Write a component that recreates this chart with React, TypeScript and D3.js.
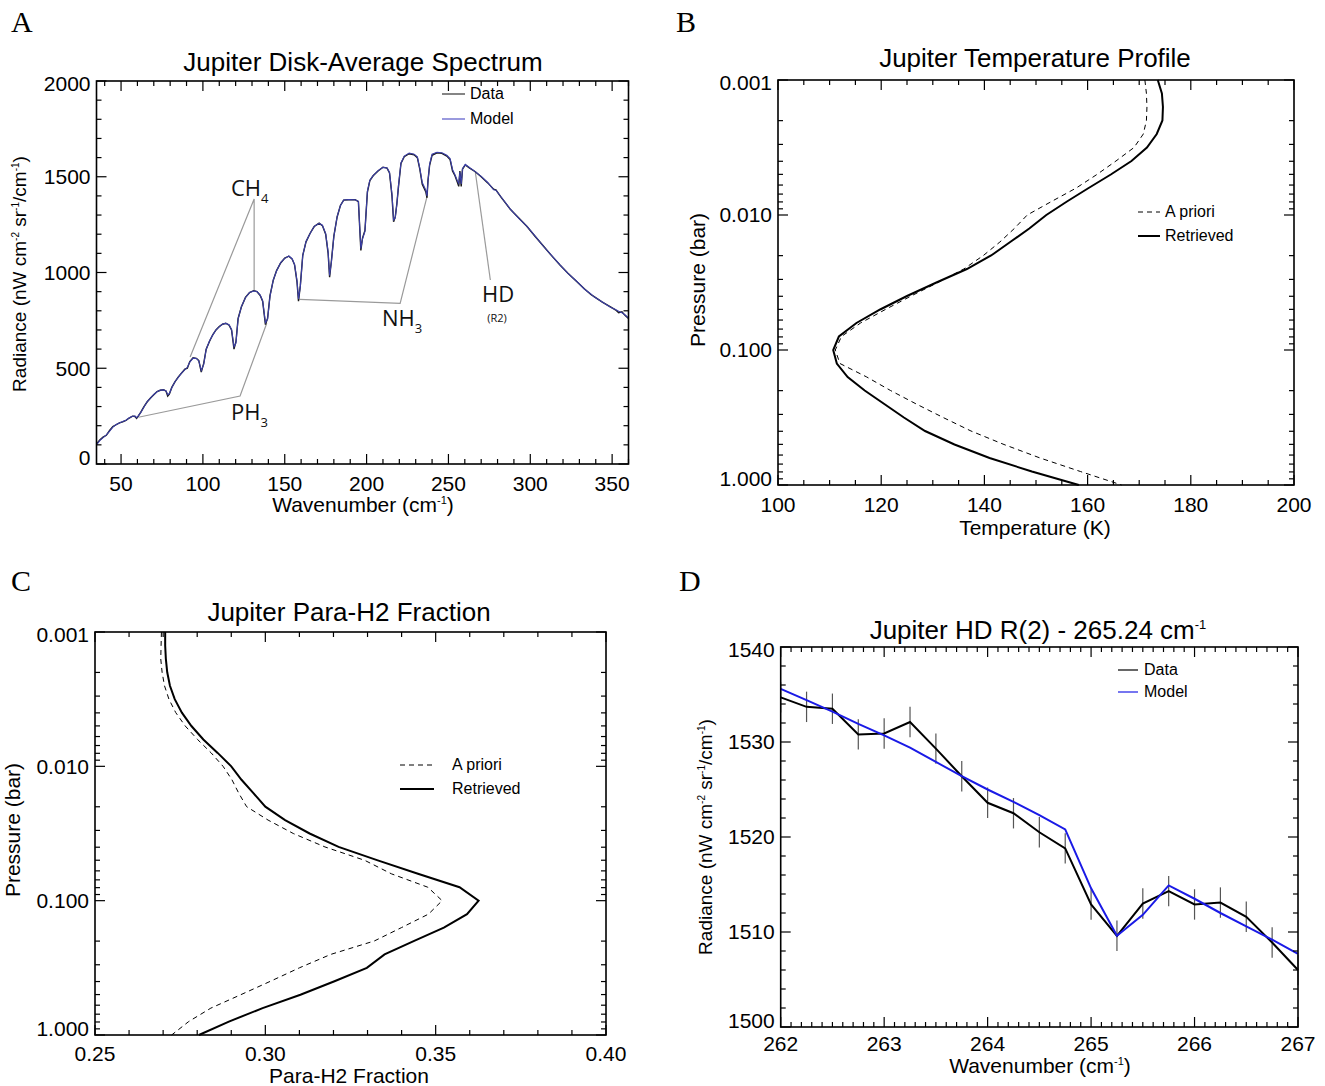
import React from "react";
import * as d3 from "d3";

const FONT = "'Liberation Sans', Arial, Helvetica, sans-serif";
const ANNOT_FONT = "'Open Sans', 'Noto Sans', sans-serif";
const SERIF = "'Liberation Serif', 'DejaVu Serif', serif";

// ---------------- Panel A: disk-average spectrum ----------------
const specWavenumber = [
  35, 37, 39, 41, 43, 45, 47, 49, 51, 53, 55, 57, 58.5, 59.5, 60.5, 62, 64, 66, 68, 70,
  72, 74, 76, 77.5, 78.5, 79.5, 81, 83, 85, 87, 89, 90.5, 92, 94, 96, 97.5, 99, 100.5, 102, 104,
  106, 108, 110, 112, 114, 116, 117.5, 119, 120.2, 121.5, 123.5, 126, 128.5, 131, 133, 135, 136.5, 138.2, 139.5, 141,
  143, 145, 147.5, 150, 152.5, 154.5, 156, 157.5, 158.4, 159.5, 161, 163, 165.5, 168, 171, 173, 175, 176.5, 177.4, 178.5,
  180, 182, 184, 186, 189, 193, 195, 196.5, 197.5, 199, 200.5, 202, 204, 207, 210, 212.5, 214, 215.5, 216.5, 217.5,
  218.5, 219.5, 221, 223, 226, 229, 231, 232.5, 234, 236.2, 236.9, 237.5, 238.5, 240, 243, 246, 249, 251, 252.5, 254,
  255.5, 256.3, 257, 257.8, 258.6, 260.3, 263, 266.4, 270, 274, 277.6, 279, 282, 287.8, 293, 298, 303, 308, 313, 318,
  323, 328, 333, 337, 339, 344, 349, 352, 354, 356, 358, 360,
];
const specData = [
  105, 125, 140, 150, 175, 195, 205, 215, 220, 228, 240, 250, 248, 238, 250, 270, 300, 325, 345, 362,
  378, 385, 388, 380, 355, 365, 400, 430, 455, 475, 495, 500, 535, 555, 552, 540, 480, 525, 600, 640,
  675, 700, 718, 730, 735, 725, 700, 600, 640, 760, 820, 870, 895, 905, 900, 880, 850, 728, 760, 880,
  960, 1010, 1050, 1075, 1085, 1070, 1040, 950, 850, 930, 1090, 1160, 1205, 1240, 1258, 1245, 1200, 1100, 975, 1060,
  1190, 1290, 1350, 1378, 1380, 1380, 1370, 1115, 1180, 1220, 1420, 1480, 1505, 1530, 1550, 1545, 1520, 1400, 1265, 1290,
  1360, 1450, 1570, 1605, 1620, 1615, 1600, 1540, 1460, 1420, 1390, 1480, 1560, 1612, 1625, 1622, 1608, 1590, 1530, 1505,
  1470, 1450, 1530, 1450, 1540, 1562, 1545, 1526, 1500, 1468, 1435, 1432, 1395, 1330, 1285, 1240, 1188, 1138, 1088, 1040,
  996, 955, 915, 885, 874, 845, 820, 805, 790, 795, 775, 760,
];
const specModel = [
  100, 122, 138, 152, 172, 193, 206, 214, 222, 229, 241, 249, 250, 242, 251, 268, 298, 326, 344, 363,
  377, 386, 387, 382, 362, 368, 398, 431, 452, 476, 493, 505, 532, 553, 551, 538, 488, 520, 598, 642,
  673, 701, 716, 731, 734, 727, 703, 612, 632, 756, 822, 868, 896, 903, 901, 882, 852, 738, 755, 876,
  962, 1008, 1052, 1074, 1086, 1072, 1042, 956, 862, 925, 1088, 1162, 1204, 1241, 1256, 1247, 1203, 1108, 985, 1055,
  1188, 1292, 1349, 1379, 1381, 1380, 1372, 1125, 1175, 1215, 1425, 1482, 1506, 1532, 1549, 1546, 1522, 1410, 1275, 1285,
  1358, 1455, 1572, 1608, 1624, 1618, 1604, 1545, 1470, 1430, 1400, 1475, 1565, 1618, 1628, 1625, 1612, 1595, 1538, 1510,
  1478, 1465, 1525, 1462, 1542, 1565, 1547, 1527, 1502, 1470, 1432, 1430, 1397, 1331, 1283, 1241, 1190, 1137, 1090, 1041,
  995, 957, 914, 888, 873, 846, 819, 807, 798, 790, 778, 762,
];
const specTicksX = [50, 100, 150, 200, 250, 300, 350];
const specTicksY = [0, 500, 1000, 1500, 2000];

// ---------------- Panel B: temperature profile ----------------
const pressureLevels = [
  0.001, 0.001259, 0.001585, 0.001995, 0.002512, 0.003162, 0.003981, 0.005012, 0.00631, 0.007943,
  0.01, 0.01259, 0.01585, 0.01995, 0.02512, 0.03162, 0.03981, 0.05012, 0.0631, 0.07943,
  0.1, 0.1259, 0.1585, 0.1995, 0.2512, 0.3162, 0.3981, 0.5012, 0.631, 0.7943, 1.0,
];
const tempApriori = [
  171.1, 171.4, 171.5, 171.4, 170.8, 169.0, 165.5, 161.8, 157.8, 153.0,
  148.3, 145.8, 143.0, 139.8, 136.0, 131.0, 125.8, 120.8, 116.0, 112.3,
  111.1, 112.0, 117.2, 121.8, 126.8, 132.0, 137.4, 143.8, 150.8, 158.6, 166.6,
];
const tempRetrieved = [
  173.6, 174.4, 174.6, 174.5, 173.4, 171.5, 168.5, 164.5, 160.2, 156.0,
  152.0, 148.7, 145.0, 141.3, 136.6, 130.7, 125.0, 119.8, 115.2, 111.8,
  110.7, 111.4, 113.5, 116.8, 120.6, 124.4, 128.5, 134.2, 141.0, 149.2, 158.3,
];
const tempTicks = [100, 120, 140, 160, 180, 200];
const pressureTicks = [0.001, 0.01, 0.1, 1.0];

// ---------------- Panel C: para-H2 fraction ----------------
const paraApriori = [
  0.2695, 0.2694, 0.2693, 0.2697, 0.2704, 0.2717, 0.2737, 0.2765, 0.2801, 0.2841,
  0.2876, 0.2902, 0.2922, 0.2945, 0.3008, 0.3082, 0.3175, 0.3292, 0.337, 0.3477,
  0.3519, 0.3479, 0.34, 0.332, 0.3192, 0.31, 0.3015, 0.2928, 0.284, 0.2775, 0.2725,
];
const paraRetrieved = [
  0.2706, 0.2706, 0.2708, 0.2712, 0.272, 0.2734, 0.2755, 0.2783, 0.2818, 0.286,
  0.29, 0.293, 0.2965, 0.3, 0.3058, 0.313, 0.3215, 0.333, 0.3448, 0.357,
  0.3626, 0.3592, 0.3524, 0.3437, 0.335, 0.3298, 0.3203, 0.3103, 0.2992, 0.2893, 0.2805,
];
const paraTicks = [0.25, 0.3, 0.35, 0.4];

// ---------------- Panel D: HD R(2) line ----------------
const hdWavenumber = [
  262, 262.25, 262.5, 262.75, 263, 263.25, 263.5, 263.75, 264, 264.25, 264.5,
  264.75, 265, 265.25, 265.5, 265.75, 266, 266.25, 266.5, 266.75, 267,
];
const hdData = [
  1534.7, 1533.7, 1533.5, 1530.8, 1530.9, 1532.1, 1529.3, 1526.4, 1523.6, 1522.5, 1520.5,
  1518.8, 1512.9, 1509.6, 1513.0, 1514.3, 1512.9, 1513.1, 1511.6, 1508.9, 1506.0,
];
const hdError = [
  1.6, 1.6, 1.6, 1.6, 1.6, 1.6, 1.6, 1.6, 1.6, 1.6, 1.6,
  1.6, 1.6, 1.6, 1.6, 1.6, 1.6, 1.6, 1.6, 1.6, 1.6,
];
const hdModel = [
  1535.6, 1534.4, 1533.2, 1531.9, 1530.7, 1529.4, 1527.9, 1526.4, 1525.0, 1523.7, 1522.3,
  1520.8, 1514.6, 1509.6, 1511.8, 1514.9, 1513.5, 1512.0, 1510.6, 1509.2, 1507.7,
];
const hdTicksX = [262, 263, 264, 265, 266, 267];
const hdTicksY = [1500, 1510, 1520, 1530, 1540];

// ---------------- helpers ----------------
function range(a: number, b: number, step: number) {
  const out: number[] = [];
  for (let v = a; v <= b + step * 1e-6; v += step) out.push(+v.toFixed(6));
  return out;
}
function logMinor(lo: number, hi: number) {
  const out: number[] = [];
  for (let d = lo; d < hi; d *= 10) for (let k = 2; k <= 9; k++) out.push(d * k);
  return out;
}

const TICK_FS = 21;
const LABEL_FS = 21;
const RAD_FS = 19;
const TITLE_FS = 26;
const LEGEND_FS = 16;
const DASH = "5,4";

type AxesProps = {
  xs: any;
  ys: any;
  xMajor: number[];
  xMinor: number[];
  yMajor: number[];
  yMinor: number[];
  xFmt: (v: number) => string;
  yFmt: (v: number) => string;
  xLabelY: number;
};

function Axes({ xs, ys, xMajor, xMinor, yMajor, yMinor, xFmt, yFmt, xLabelY }: AxesProps) {
  const [xa, xb] = xs.range();
  const x0 = Math.min(xa, xb), x1 = Math.max(xa, xb);
  const [ya, yb] = ys.range();
  const top = Math.min(ya, yb), bottom = Math.max(ya, yb);
  const MJ = 10, MN = 5;
  const els: any[] = [];
  xMajor.forEach((v, i) => {
    const x = xs(v);
    els.push(<line key={"xM" + i} x1={x} x2={x} y1={bottom} y2={bottom - MJ} />);
    els.push(<line key={"xMt" + i} x1={x} x2={x} y1={top} y2={top + MJ} />);
  });
  xMinor.forEach((v, i) => {
    const x = xs(v);
    els.push(<line key={"xm" + i} x1={x} x2={x} y1={bottom} y2={bottom - MN} />);
    els.push(<line key={"xmt" + i} x1={x} x2={x} y1={top} y2={top + MN} />);
  });
  yMajor.forEach((v, i) => {
    const y = ys(v);
    els.push(<line key={"yM" + i} x1={x0} x2={x0 + MJ} y1={y} y2={y} />);
    els.push(<line key={"yMr" + i} x1={x1} x2={x1 - MJ} y1={y} y2={y} />);
  });
  yMinor.forEach((v, i) => {
    const y = ys(v);
    els.push(<line key={"ym" + i} x1={x0} x2={x0 + MN} y1={y} y2={y} />);
    els.push(<line key={"ymr" + i} x1={x1} x2={x1 - MN} y1={y} y2={y} />);
  });
  return (
    <g>
      <g stroke="#000" strokeWidth={1.2}>{els}</g>
      <rect x={x0} y={top} width={x1 - x0} height={bottom - top} fill="none" stroke="#000" strokeWidth={1.6} />
      <g fontFamily={FONT} fontSize={TICK_FS} fill="#000">
        {xMajor.map((v, i) => (
          <text key={"xl" + i} x={xs(v)} y={xLabelY} textAnchor="middle">{xFmt(v)}</text>
        ))}
        {yMajor.map((v, i) => {
          let y = ys(v);
          if (Math.abs(y - bottom) < 1) y -= 6;
          else if (Math.abs(y - top) < 1) y += 3;
          return (
            <text key={"yl" + i} x={x0 - 6} y={y} dy="0.35em" textAnchor="end">{yFmt(v)}</text>
          );
        })}
      </g>
    </g>
  );
}

function RadianceLabel({ x, y }: { x: number; y: number }) {
  return (
    <text transform={`translate(${x},${y}) rotate(-90)`} textAnchor="middle" fontFamily={FONT} fontSize={RAD_FS}>
      Radiance (nW cm<tspan dy={-7} fontSize={10}>-2</tspan>
      <tspan dy={7}> sr</tspan>
      <tspan dy={-7} fontSize={10}>-1</tspan>
      <tspan dy={7}>/cm</tspan>
      <tspan dy={-7} fontSize={10}>-1</tspan>
      <tspan dy={7}>)</tspan>
    </text>
  );
}

function WavenumberLabel({ x, y }: { x: number; y: number }) {
  return (
    <text x={x} y={y} textAnchor="middle" fontFamily={FONT} fontSize={LABEL_FS}>
      Wavenumber (cm<tspan dy={-8} fontSize={11}>-1</tspan>
      <tspan dy={8}>)</tspan>
    </text>
  );
}

export default function App() {
  // ---- Panel A ----
  const xA = d3.scaleLinear().domain([35, 360]).range([96.5, 628.5]);
  const yA = d3.scaleLinear().domain([0, 2000]).range([464, 81]);
  const specLine = (vals: number[]) =>
    d3.line<number>().x((_, i) => xA(specWavenumber[i])).y((d) => yA(d))(vals) || "";
  const gl = (pts: [number, number][]) =>
    d3.line<[number, number]>().x((d) => xA(d[0])).y((d) => yA(d[1]))(pts) || "";

  // ---- Panel B ----
  const xB = d3.scaleLinear().domain([100, 200]).range([778, 1294]);
  const yB = d3.scaleLog().domain([0.001, 1]).range([80, 485]);
  const tLine = (vals: number[]) =>
    d3.line<number>().x((d) => xB(d)).y((_, i) => yB(pressureLevels[i]))(vals) || "";

  // ---- Panel C ----
  const xC = d3.scaleLinear().domain([0.25, 0.4]).range([95, 606]);
  const yC = d3.scaleLog().domain([0.001, 1]).range([632, 1035]);
  const pLine = (vals: number[]) =>
    d3.line<number>().x((d) => xC(d)).y((_, i) => yC(pressureLevels[i]))(vals) || "";

  // ---- Panel D ----
  const xD = d3.scaleLinear().domain([262, 267]).range([780.7, 1298]);
  const yD = d3.scaleLinear().domain([1500, 1540]).range([1027, 647]);
  const hdLine = (vals: number[]) =>
    d3.line<number>().x((_, i) => xD(hdWavenumber[i])).y((d) => yD(d))(vals) || "";

  const fmt3 = (v: number) => v.toFixed(3);
  const fmt2 = (v: number) => v.toFixed(2);
  const fmt0 = (v: number) => String(v);

  return (
    <svg width={1325} height={1086} style={{ position: "absolute", left: 0, top: 0, background: "#fff" }}>
      <rect x={0} y={0} width={1325} height={1086} fill="#fff" />

      {/* Panel letters */}
      <g fontFamily={SERIF} fontSize={30} fill="#000">
        <text x={11} y={32}>A</text>
        <text x={676} y={32}>B</text>
        <text x={11} y={591}>C</text>
        <text x={679} y={591}>D</text>
      </g>

      {/* ================= Panel A ================= */}
      <text x={363} y={71} textAnchor="middle" fontFamily={FONT} fontSize={TITLE_FS}>Jupiter Disk-Average Spectrum</text>
      <g stroke="#9a9a9a" strokeWidth={1.2} fill="none">
        <path d={gl([[92.2, 559], [131.3, 1384], [131.3, 903]])} />
        <path d={gl([[60.6, 244], [122.7, 355], [139.0, 735]])} />
        <path d={gl([[159, 860], [220.5, 839], [236.9, 1396]])} />
        <path d={gl([[266.4, 1526], [275.6, 961]])} />
      </g>
      <path d={specLine(specData)} fill="none" stroke="#1a1a1a" strokeWidth={1.4} />
      <path d={specLine(specModel)} fill="none" stroke="#3b3fa8" strokeWidth={1.1} />
      <Axes
        xs={xA} ys={yA}
        xMajor={specTicksX} xMinor={range(40, 360, 10).filter((v) => v % 50 !== 0)}
        yMajor={specTicksY} yMinor={range(100, 1900, 100).filter((v) => v % 500 !== 0)}
        xFmt={fmt0} yFmt={fmt0} xLabelY={491}
      />
      <WavenumberLabel x={363} y={512} />
      <RadianceLabel x={26} y={274} />
      <g fontFamily={ANNOT_FONT} fontSize={22} fill="#111">
        <text x={231} y={196}>CH<tspan dy={7} fontSize={13}>4</tspan></text>
        <text x={231} y={420}>PH<tspan dy={7} fontSize={13}>3</tspan></text>
        <text x={382} y={326}>NH<tspan dy={7} fontSize={13}>3</tspan></text>
        <text x={498} y={302} textAnchor="middle">HD</text>
        <text x={497} y={322} textAnchor="middle" fontSize={11}>(R2)</text>
      </g>
      <g fontFamily={FONT} fontSize={LEGEND_FS}>
        <line x1={442} x2={465} y1={94} y2={94} stroke="#333" strokeWidth={1.2} />
        <text x={470} y={99}>Data</text>
        <line x1={442} x2={465} y1={119} y2={119} stroke="#5656c8" strokeWidth={1.2} />
        <text x={470} y={124}>Model</text>
      </g>

      {/* ================= Panel B ================= */}
      <text x={1035} y={67} textAnchor="middle" fontFamily={FONT} fontSize={TITLE_FS}>Jupiter Temperature Profile</text>
      <path d={tLine(tempApriori)} fill="none" stroke="#000" strokeWidth={1} strokeDasharray={DASH} />
      <path d={tLine(tempRetrieved)} fill="none" stroke="#000" strokeWidth={2} />
      <Axes
        xs={xB} ys={yB}
        xMajor={tempTicks} xMinor={range(105, 195, 5).filter((v) => v % 20 !== 0)}
        yMajor={pressureTicks} yMinor={logMinor(0.001, 1)}
        xFmt={fmt0} yFmt={fmt3} xLabelY={512}
      />
      <text x={1035} y={535} textAnchor="middle" fontFamily={FONT} fontSize={LABEL_FS}>Temperature (K)</text>
      <text transform="translate(705,280) rotate(-90)" textAnchor="middle" fontFamily={FONT} fontSize={LABEL_FS}>Pressure (bar)</text>
      <g fontFamily={FONT} fontSize={LEGEND_FS}>
        <line x1={1138} x2={1160} y1={212} y2={212} stroke="#000" strokeWidth={1} strokeDasharray={DASH} />
        <text x={1165} y={217}>A priori</text>
        <line x1={1138} x2={1160} y1={236} y2={236} stroke="#000" strokeWidth={2} />
        <text x={1165} y={241}>Retrieved</text>
      </g>

      {/* ================= Panel C ================= */}
      <text x={349} y={621} textAnchor="middle" fontFamily={FONT} fontSize={TITLE_FS}>Jupiter Para-H2 Fraction</text>
      <path d={pLine(paraApriori)} fill="none" stroke="#000" strokeWidth={1} strokeDasharray={DASH} />
      <path d={pLine(paraRetrieved)} fill="none" stroke="#000" strokeWidth={2} />
      <Axes
        xs={xC} ys={yC}
        xMajor={paraTicks} xMinor={range(0.26, 0.39, 0.01).filter((v) => Math.abs((v * 100) % 5) > 0.01 && Math.abs((v * 100) % 5 - 5) > 0.01)}
        yMajor={pressureTicks} yMinor={logMinor(0.001, 1)}
        xFmt={fmt2} yFmt={fmt3} xLabelY={1061}
      />
      <text x={349} y={1083} textAnchor="middle" fontFamily={FONT} fontSize={LABEL_FS}>Para-H2 Fraction</text>
      <text transform="translate(20,830) rotate(-90)" textAnchor="middle" fontFamily={FONT} fontSize={LABEL_FS}>Pressure (bar)</text>
      <g fontFamily={FONT} fontSize={LEGEND_FS}>
        <line x1={400} x2={436} y1={765} y2={765} stroke="#000" strokeWidth={1} strokeDasharray={DASH} />
        <text x={452} y={770}>A priori</text>
        <line x1={400} x2={434} y1={789} y2={789} stroke="#000" strokeWidth={2} />
        <text x={452} y={794}>Retrieved</text>
      </g>

      {/* ================= Panel D ================= */}
      <text x={1038} y={639} textAnchor="middle" fontFamily={FONT} fontSize={TITLE_FS}>
        Jupiter HD R(2) - 265.24 cm<tspan dy={-10} fontSize={13}>-1</tspan>
      </text>
      <g stroke="#555" strokeWidth={1.2}>
        {hdWavenumber.map((w, i) => (
          <line key={i} x1={xD(w)} x2={xD(w)} y1={yD(hdData[i] - hdError[i])} y2={yD(hdData[i] + hdError[i])} />
        ))}
      </g>
      <path d={hdLine(hdData)} fill="none" stroke="#000" strokeWidth={2} />
      <path d={hdLine(hdModel)} fill="none" stroke="#1a1ae6" strokeWidth={2} />
      <Axes
        xs={xD} ys={yD}
        xMajor={hdTicksX} xMinor={range(262.1, 266.9, 0.1).filter((v) => Math.abs(v - Math.round(v)) > 0.01)}
        yMajor={hdTicksY} yMinor={range(1502, 1538, 2).filter((v) => v % 10 !== 0)}
        xFmt={fmt0} yFmt={fmt0} xLabelY={1051}
      />
      <WavenumberLabel x={1040} y={1073} />
      <RadianceLabel x={712} y={837} />
      <g fontFamily={FONT} fontSize={LEGEND_FS}>
        <line x1={1118} x2={1138} y1={670} y2={670} stroke="#000" strokeWidth={1.2} />
        <text x={1144} y={675}>Data</text>
        <line x1={1118} x2={1138} y1={692} y2={692} stroke="#1a1ae6" strokeWidth={1.2} />
        <text x={1144} y={697}>Model</text>
      </g>
    </svg>
  );
}
